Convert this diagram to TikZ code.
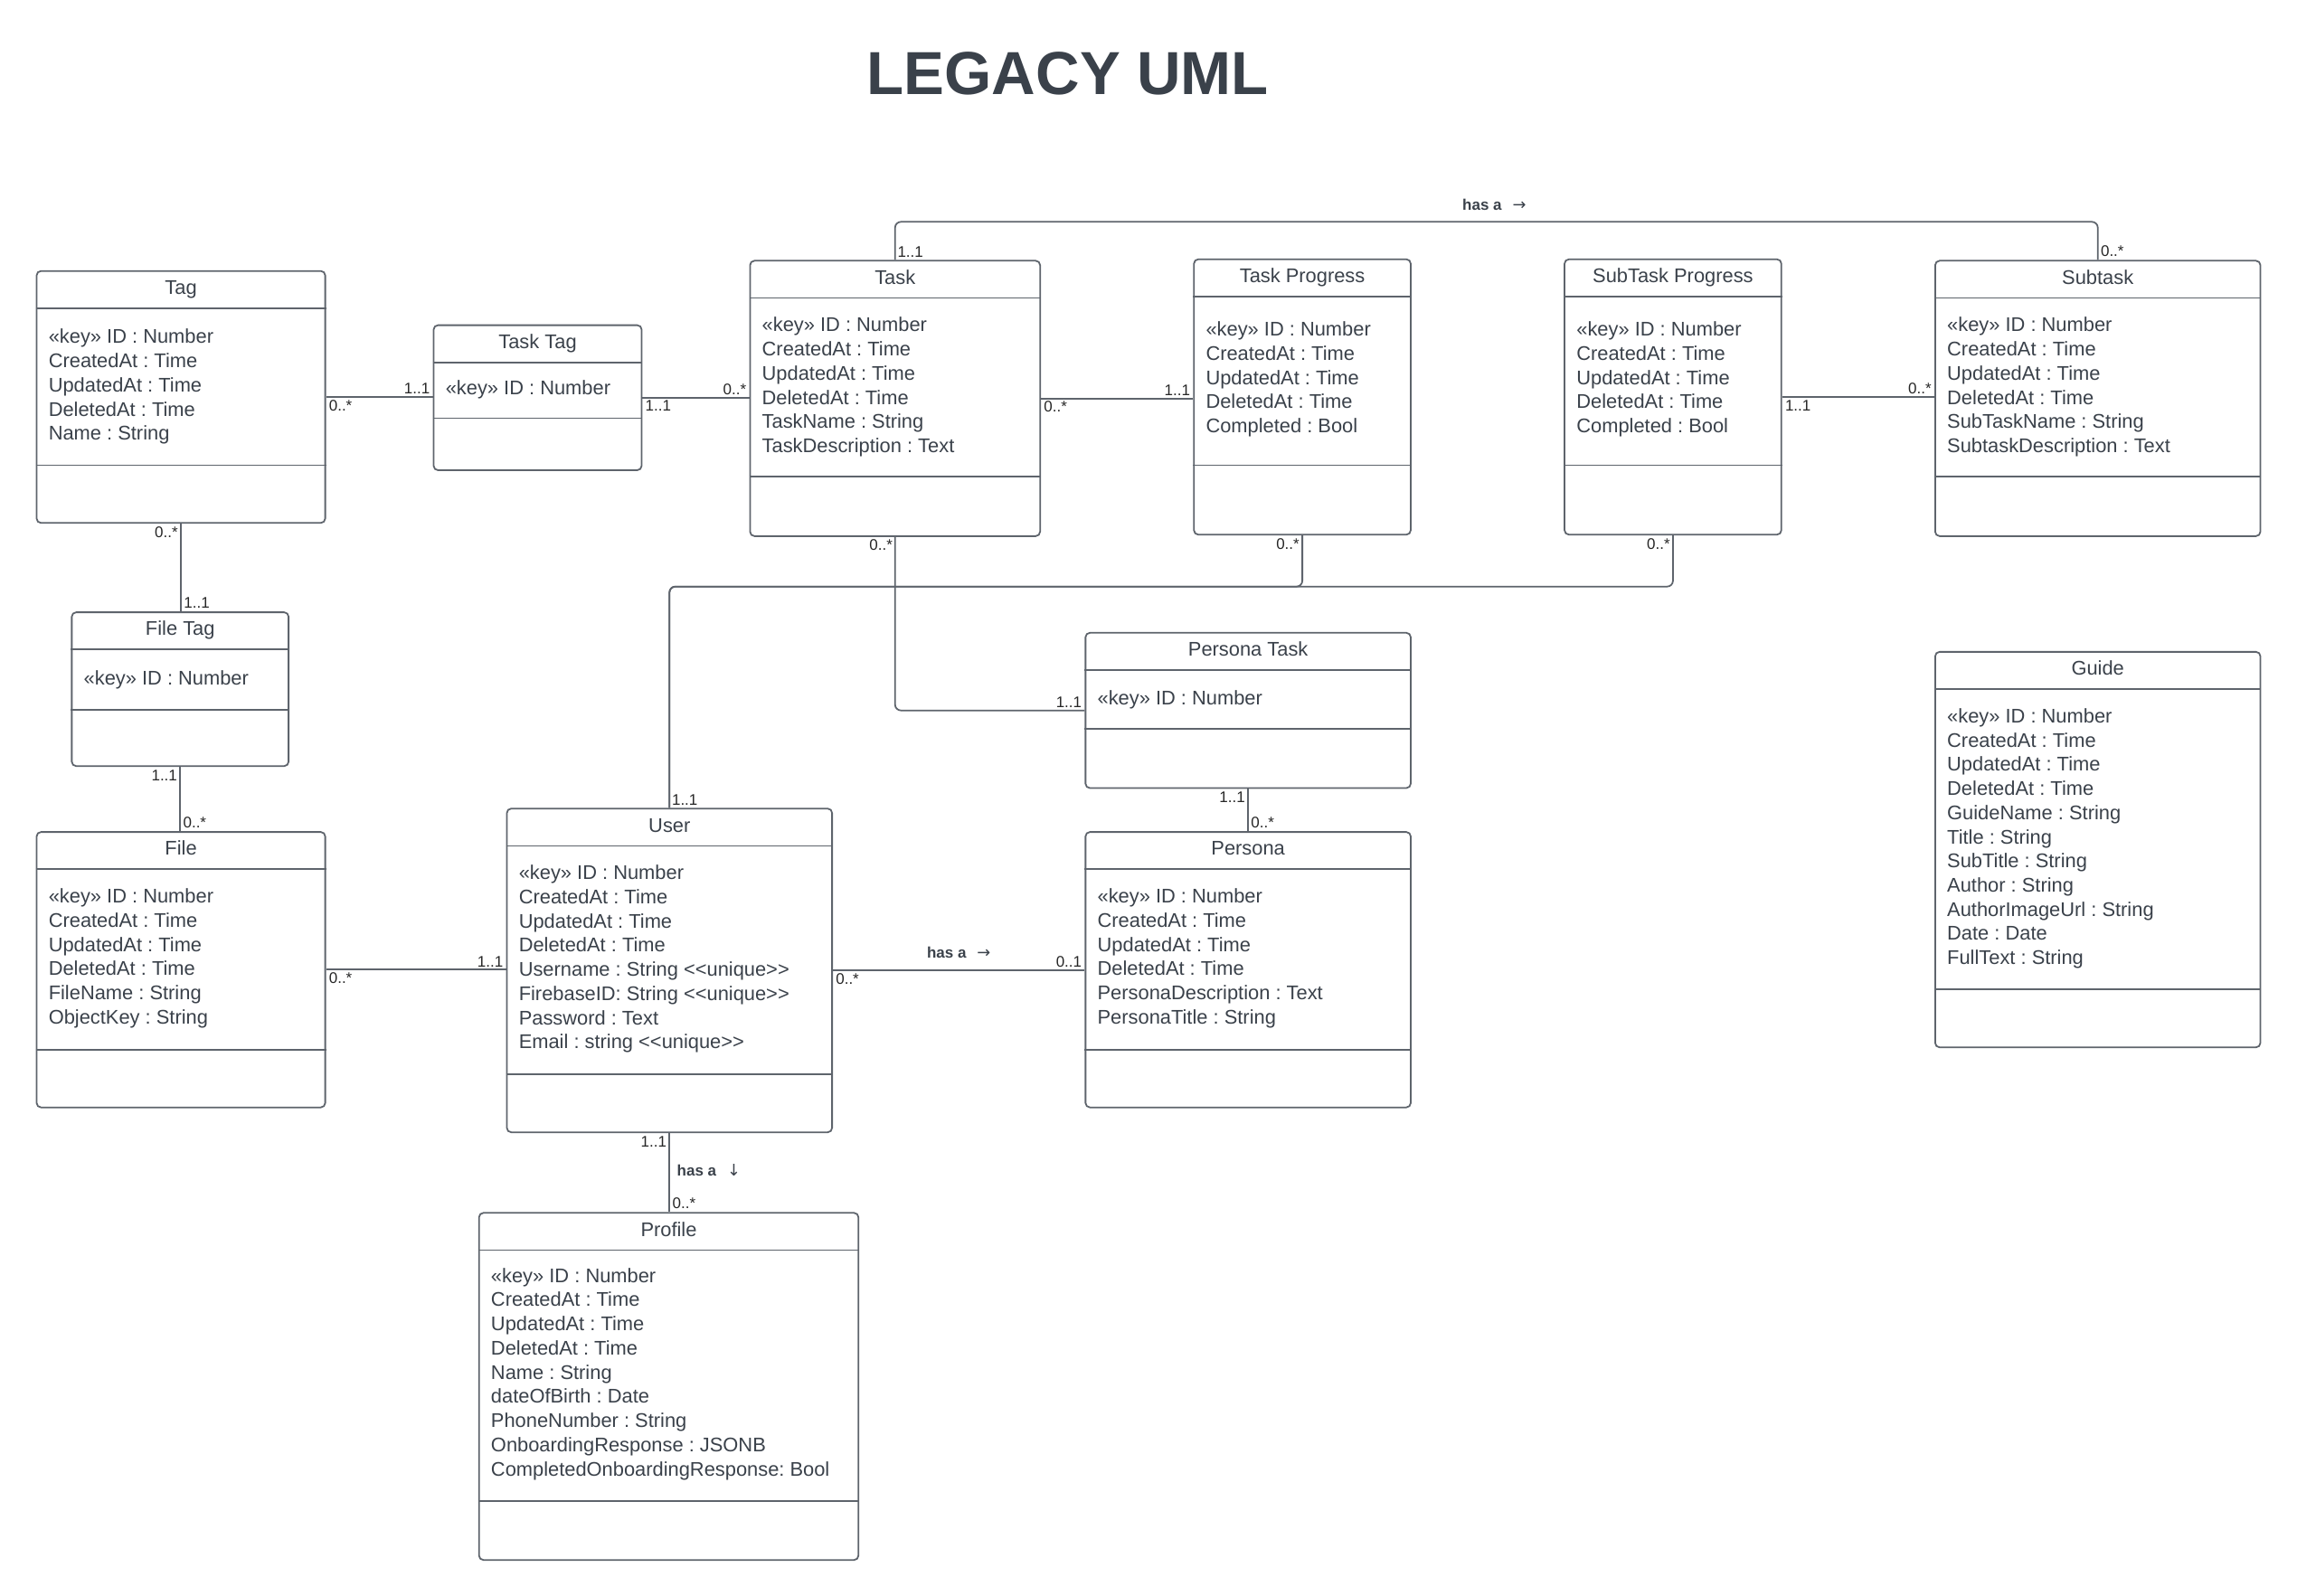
\documentclass[tikz,border=0pt]{standalone}
\usepackage{fontspec}
\setmainfont{Liberation Sans}
\newfontfamily\arrowfont{DejaVu Sans}
\frenchspacing
\definecolor{inkgray}{HTML}{3A414A}
\definecolor{linegray}{HTML}{5E646C}

\begin{document}
\begin{tikzpicture}[x=1pt,y=-1pt,
  cls/.style={draw=linegray, line width=1.1pt, rounded corners=3pt, inner sep=0pt},
  compart/.style={draw=linegray, line width=1.1pt},
  clsname/.style={anchor=base, inner sep=0pt, text=inkgray, font=\fontsize{13.5}{16.5}\selectfont},
  attr/.style={anchor=base west, inner sep=0pt, text=inkgray, font=\fontsize{13.5}{16.5}\selectfont},
  assoc/.style={draw=linegray, line width=1.1pt, rounded corners=4pt},
  mult/.style={inner sep=1.5pt, text=black!85, font=\fontsize{10.5}{12}\selectfont},
  hasa/.style={inner sep=0pt, text=inkgray, font=\bfseries\fontsize{10.5}{12}\selectfont}]
\useasboundingbox (0,0) rectangle (1568,1089.5);

\node[text=inkgray, font=\bfseries\fontsize{41.5}{48}\selectfont] (title) at (729,50) {LEGACY UML};

% classes
\node[cls, minimum width=197, minimum height=172] (tag) at (123.5,271) {};
\node[cls, minimum width=142, minimum height=99] (tasktag) at (367,271.5) {};
\node[cls, minimum width=198, minimum height=188] (task) at (611,272) {};
\node[cls, minimum width=148, minimum height=188] (taskprog) at (889,271) {};
\node[cls, minimum width=148, minimum height=188] (subprog) at (1142,271) {};
\node[cls, minimum width=222, minimum height=188] (subtask) at (1432,272) {};
\node[cls, minimum width=148, minimum height=105] (filetag) at (123,470.5) {};
\node[cls, minimum width=197, minimum height=188] (file) at (123.5,662) {};
\node[cls, minimum width=222, minimum height=221] (user) at (457,662.5) {};
\node[cls, minimum width=222, minimum height=106] (personatask) at (852,485) {};
\node[cls, minimum width=222, minimum height=188] (persona) at (852,662) {};
\node[cls, minimum width=222, minimum height=270] (guide) at (1432,580) {};
\node[cls, minimum width=259, minimum height=237] (profile) at (456.5,946.5) {};

% names and compartments
\foreach \n/\t/\s in {tag/Tag/40, tasktag/Task Tag/36, task/Task/41, taskprog/Task Progress/48,
    subprog/SubTask Progress/48, subtask/Subtask/41, filetag/File Tag/39, file/File/40,
    user/User/40, personatask/Persona Task/41, persona/Persona/40, guide/Guide/40, profile/Profile/41} {
  \node[clsname] (\n-name) at ([yshift=-16.5pt]\n.north) {\t};
  \draw[compart] ([yshift=-26pt]\n.north west) -- ([yshift=-26pt]\n.north east);
  \draw[compart] ([yshift=\s pt]\n.south west) -- ([yshift=\s pt]\n.south east);
}

% attributes
\foreach \a [count=\i from 0] in {«key» ID : Number, CreatedAt : Time, UpdatedAt : Time, DeletedAt : Time, Name : String}
  \node[attr] (tag-a\i) at (33,234.5+16.5*\i) {\a};
\node[attr] (tasktag-a0) at (304,269.5) {«key» ID : Number};
\foreach \a [count=\i from 0] in {«key» ID : Number, CreatedAt : Time, UpdatedAt : Time, DeletedAt : Time, TaskName : String, TaskDescription : Text}
  \node[attr] (task-a\i) at (520,226.5+16.5*\i) {\a};
\foreach \a [count=\i from 0] in {«key» ID : Number, CreatedAt : Time, UpdatedAt : Time, DeletedAt : Time, Completed : Bool} {
  \node[attr] (taskprog-a\i) at (823,229.5+16.5*\i) {\a};
  \node[attr] (subprog-a\i) at (1076,229.5+16.5*\i) {\a};
}
\foreach \a [count=\i from 0] in {«key» ID : Number, CreatedAt : Time, UpdatedAt : Time, DeletedAt : Time, SubTaskName : String, SubtaskDescription : Text}
  \node[attr] (subtask-a\i) at (1329,226.5+16.5*\i) {\a};
\node[attr] (filetag-a0) at (57,467.5) {«key» ID : Number};
\foreach \a [count=\i from 0] in {«key» ID : Number, CreatedAt : Time, UpdatedAt : Time, DeletedAt : Time, FileName : String, ObjectKey : String}
  \node[attr] (file-a\i) at (33,616.5+16.5*\i) {\a};
\foreach \a [count=\i from 0] in {«key» ID : Number, CreatedAt : Time, UpdatedAt : Time, DeletedAt : Time,
    Username : String <\kern0pt<unique>\kern0pt>, FirebaseID: String <\kern0pt<unique>\kern0pt>,
    Password : Text, Email : string <\kern0pt<unique>\kern0pt>}
  \node[attr] (user-a\i) at (354,600.5+16.5*\i) {\a};
\node[attr] (personatask-a0) at (749,481.5) {«key» ID : Number};
\foreach \a [count=\i from 0] in {«key» ID : Number, CreatedAt : Time, UpdatedAt : Time, DeletedAt : Time, PersonaDescription : Text, PersonaTitle : String}
  \node[attr] (persona-a\i) at (749,616.5+16.5*\i) {\a};
\foreach \a [count=\i from 0] in {«key» ID : Number, CreatedAt : Time, UpdatedAt : Time, DeletedAt : Time, GuideName : String,
    Title : String, SubTitle : String, Author : String, AuthorImageUrl : String, Date : Date, FullText : String}
  \node[attr] (guide-a\i) at (1329,493.5+16.5*\i) {\a};
\foreach \a [count=\i from 0] in {«key» ID : Number, CreatedAt : Time, UpdatedAt : Time, DeletedAt : Time, Name : String,
    dateOfBirth : Date, PhoneNumber : String, OnboardingResponse : JSONB, CompletedOnboardingResponse: Bool}
  \node[attr] (profile-a\i) at (335,875.5+16.5*\i) {\a};

% associations
\path[assoc] (tag.east) -- (tag.east -| tasktag.west)
  node[mult, at start, below right] (m1) {0..*} node[mult, at end, above left] (m2) {1..1};
\path[assoc] (tasktag.east) -- (tasktag.east -| task.west)
  node[mult, at start, below right] (m3) {1..1} node[mult, at end, above left] (m4) {0..*};
\path[assoc] (task.east) -- (task.east -| taskprog.west)
  node[mult, at start, below right] (m5) {0..*} node[mult, at end, above left] (m6) {1..1};
\path[assoc] (subprog.east) -- (subprog.east -| subtask.west)
  node[mult, at start, below right] (m7) {1..1} node[mult, at end, above left] (m8) {0..*};
\path[assoc] (task.north) -- ++(0,-26) -| (subtask.north)
  node[mult, at end, above right] (m10) {0..*};
\node[mult, anchor=south west] (m9) at (task.north) {1..1};
\node[hasa] (hasa-sub) at (1020,140) {has a\hspace{0.7em}{\arrowfont\mdseries\fontsize{11}{12}\selectfont →}};
\path[assoc] (tag.south) -- (tag.south |- filetag.north)
  node[mult, at start, below left] (m11) {0..*} node[mult, at end, above right] (m12) {1..1};
\path[assoc] (filetag.south) -- (filetag.south |- file.north)
  node[mult, at start, below left] (m13) {1..1} node[mult, at end, above right] (m14) {0..*};
\path[assoc] (file.east) -- (file.east -| user.west)
  node[mult, at start, below right] (m15) {0..*} node[mult, at end, above left] (m16) {1..1};
\path[assoc] (user.east) -- (user.east -| persona.west)
  node[mult, at start, below right] (m17) {0..*} node[mult, at end, above left] (m18) {0..1}
  node[hasa, midway, above=8pt] (hasa-persona) {has a\hspace{0.7em}{\arrowfont\mdseries\fontsize{11}{12}\selectfont →}};
\path[assoc] (user.south) -- (user.south |- profile.north)
  node[mult, at start, below left] (m19) {1..1} node[mult, at end, above right] (m20) {0..*};
\node[hasa, anchor=west] (hasa-profile) at (462,799) {has a\hspace{0.7em}{\arrowfont\mdseries\fontsize{11}{12}\selectfont ↓}};
\path[assoc] (user.north) -- ++(0,-151) -| (taskprog.south)
  node[mult, at end, below left] (m22) {0..*};
\node[mult, anchor=south west] (m21) at (user.north) {1..1};
\path[assoc] (user.north) -- ++(0,-151) -| (subprog.south)
  node[mult, at end, below left] (m23) {0..*};
\path[assoc] (task.south) |- (personatask.west)
  node[mult, at end, above left] (m25) {1..1};
\node[mult, anchor=north east] (m24) at (task.south) {0..*};
\path[assoc] (personatask.south) -- (personatask.south |- persona.north)
  node[mult, at start, below left] (m26) {1..1} node[mult, at end, above right] (m27) {0..*};
\end{tikzpicture}
\end{document}
